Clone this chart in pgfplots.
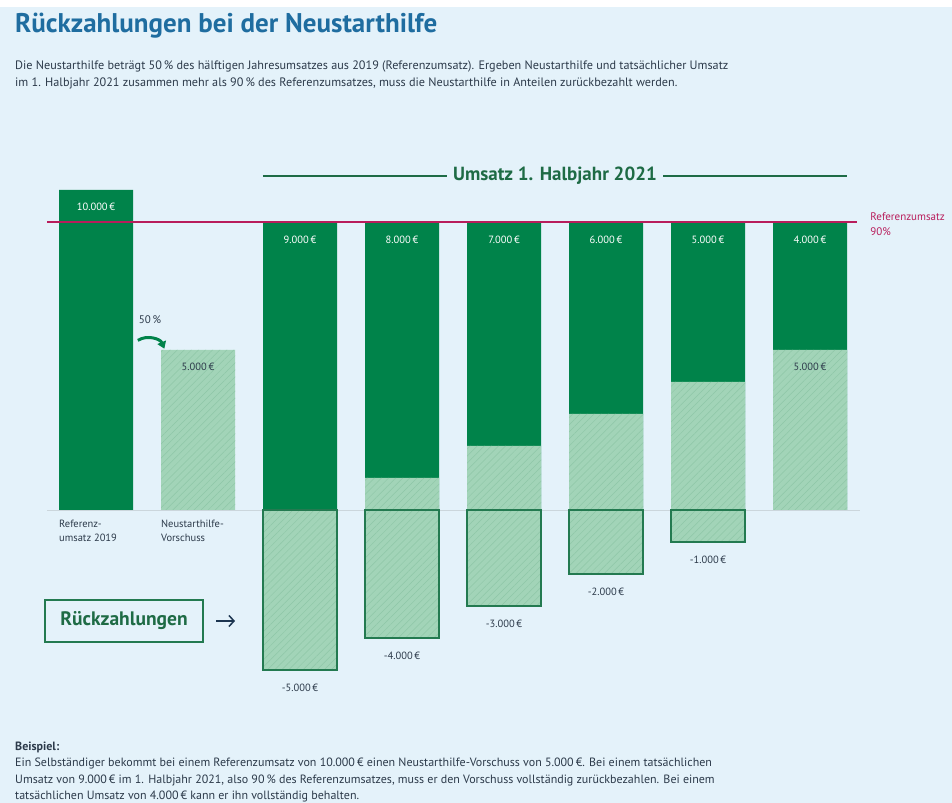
\documentclass[border=0pt]{standalone}
\usepackage{fontspec}
\setmainfont{PT Sans}
\usepackage{pgfplots}
\pgfplotsset{compat=1.18}
\usetikzlibrary{patterns.meta,arrows.meta}
\definecolor{bg}{HTML}{E4F2FA}
\definecolor{dg}{HTML}{00834A}
\definecolor{lg}{HTML}{A2D4B8}
\definecolor{hatch}{HTML}{8EC7A7}
\definecolor{outl}{HTML}{237A50}
\definecolor{refred}{HTML}{B81D5B}
\definecolor{ttl}{HTML}{1F6DA0}
\definecolor{txt}{HTML}{2C3A4A}
\definecolor{hdr}{HTML}{1E6B45}
\definecolor{basec}{HTML}{CBD6DC}
\definecolor{navy}{HTML}{1C3550}
\tikzset{wl/.style={text=white, font=\fontsize{10.5bp}{12bp}\selectfont},
         dl/.style={text=txt, font=\fontsize{10.5bp}{12bp}\selectfont}}
\begin{document}
\begin{tikzpicture}[x=1bp,y=1bp]
\fill[bg] (0,0) rectangle (952,796);
\fill[white] (0,796) rectangle (952,803);
\node[anchor=base west, inner sep=0, text=ttl, font=\fontsize{27bp}{30bp}\selectfont\bfseries] at (15,770) {Rückzahlungen bei der Neustarthilfe};
\node[anchor=base west, inner sep=0, text=txt, font=\fontsize{12.2bp}{14bp}\selectfont] at (15,733) {Die Neustarthilfe beträgt 50\,\% des hälftigen Jahresumsatzes aus 2019 (Referenzumsatz). Ergeben Neustarthilfe und tatsächlicher Umsatz};
\node[anchor=base west, inner sep=0, text=txt, font=\fontsize{12.2bp}{14bp}\selectfont] at (15,716) {im 1. Halbjahr 2021 zusammen mehr als 90\,\% des Referenzumsatzes, muss die Neustarthilfe in Anteilen zurückbezahlt werden.};

\begin{axis}[at={(45bp,101bp)}, anchor=south west, scale only axis,
  width=816bp, height=512bp, xmin=-0.5, xmax=7.5, ymin=-6000, ymax=10000,
  hide axis, clip=false]
\draw[basec, line width=0.8bp] (axis cs:-0.48,0) -- (axis cs:7.49,0);
% revenue incl. kept part (dark)
\addplot[ybar, bar width=74bp, bar shift=0pt, fill=dg, draw=none]
  coordinates {(0,10000) (2,9000) (3,9000) (4,9000) (5,9000) (6,9000) (7,9000)};
% kept Neustarthilfe (light, hatched)
\addplot[ybar, bar width=74bp, bar shift=0pt, fill=lg, draw=none,
  postaction={pattern={Lines[angle=45,distance=5bp,line width=0.5bp]}, pattern color=hatch}]
  coordinates {(1,5000) (3,1000) (4,2000) (5,3000) (6,4000) (7,5000)};
% repayments
\addplot[ybar, bar width=74bp, bar shift=0pt, fill=lg, draw=outl, line width=1.5bp,
  postaction={pattern={Lines[angle=45,distance=5bp,line width=0.5bp]}, pattern color=hatch}]
  coordinates {(2,-5000) (3,-4000) (4,-3000) (5,-2000) (6,-1000)};
\draw[refred, line width=1.8bp] (axis cs:-0.48,9000) -- (axis cs:7.46,9000);
\node[anchor=north west, inner sep=0, text=refred, align=left, font=\fontsize{11bp}{15bp}\selectfont] at (axis cs:7.59,9300) {Referenzumsatz\\90\%};
% inner labels
\node[wl] at (axis cs:0,9470) {10.000\,€};
\node[wl] at (axis cs:2,8440) {9.000\,€};
\node[wl] at (axis cs:3,8440) {8.000\,€};
\node[wl] at (axis cs:4,8440) {7.000\,€};
\node[wl] at (axis cs:5,8440) {6.000\,€};
\node[wl] at (axis cs:6,8440) {5.000\,€};
\node[wl] at (axis cs:7,8440) {4.000\,€};
\node[dl] at (axis cs:1,4470) {5.000\,€};
\node[dl] at (axis cs:7,4470) {5.000\,€};
\node[dl] at (axis cs:2,-5560) {-5.000\,€};
\node[dl] at (axis cs:3,-4560) {-4.000\,€};
\node[dl] at (axis cs:4,-3560) {-3.000\,€};
\node[dl] at (axis cs:5,-2560) {-2.000\,€};
\node[dl] at (axis cs:6,-1560) {-1.000\,€};
\node[anchor=north west, inner sep=0, text=txt, align=left, font=\fontsize{10.5bp}{14.5bp}\selectfont] at (axis cs:-0.363,-300) {Referenz-\\umsatz 2019};
\node[anchor=north west, inner sep=0, text=txt, align=left, font=\fontsize{10.5bp}{14.5bp}\selectfont] at (axis cs:0.637,-300) {Neustarthilfe-\\Vorschuss};
\node[text=txt, font=\fontsize{11bp}{12bp}\selectfont] at (axis cs:0.53,5940) {50\,\%};
\draw[dg, line width=3bp, -{Triangle[length=7bp,width=9bp]}] (axis cs:0.41,5300) to[bend left=50] (axis cs:0.67,5040);
\node[name=hdrnode, inner sep=6bp, text=hdr, font=\fontsize{19bp}{22bp}\selectfont\bfseries] at (axis cs:4.5,10437) {Umsatz 1. Halbjahr 2021};
\draw[hdr, line width=1.2bp] (axis cs:1.637,10437) -- (hdrnode.west);
\draw[hdr, line width=1.2bp] (hdrnode.east) -- (axis cs:7.363,10437);
\end{axis}

\draw[outl, line width=1.3bp] (45,161) rectangle (203,203);
\node[text=hdr, font=\fontsize{19.5bp}{22bp}\selectfont\bfseries] at (124,182) {Rückzahlungen};
\draw[navy, line width=1.5bp, -{Straight Barb[length=5bp,width=11bp]}] (216,182) -- (235,182);

\node[anchor=base west, inner sep=0, text=txt, font=\fontsize{12bp}{14bp}\selectfont\bfseries] at (15,52) {Beispiel:};
\node[anchor=base west, inner sep=0, text=txt, font=\fontsize{12bp}{14bp}\selectfont] at (15,36) {Ein Selbständiger bekommt bei einem Referenzumsatz von 10.000\,€ einen Neustarthilfe-Vorschuss von 5.000\,€. Bei einem tatsächlichen};
\node[anchor=base west, inner sep=0, text=txt, font=\fontsize{12bp}{14bp}\selectfont] at (15,19) {Umsatz von 9.000\,€ im 1. Halbjahr 2021, also 90\,\% des Referenzumsatzes, muss er den Vorschuss vollständig zurückbezahlen. Bei einem};
\node[anchor=base west, inner sep=0, text=txt, font=\fontsize{12bp}{14bp}\selectfont] at (15,3) {tatsächlichen Umsatz von 4.000\,€ kann er ihn vollständig behalten.};

\pgfresetboundingbox
\useasboundingbox (0,0) rectangle (952,803);
\end{tikzpicture}
\end{document}
